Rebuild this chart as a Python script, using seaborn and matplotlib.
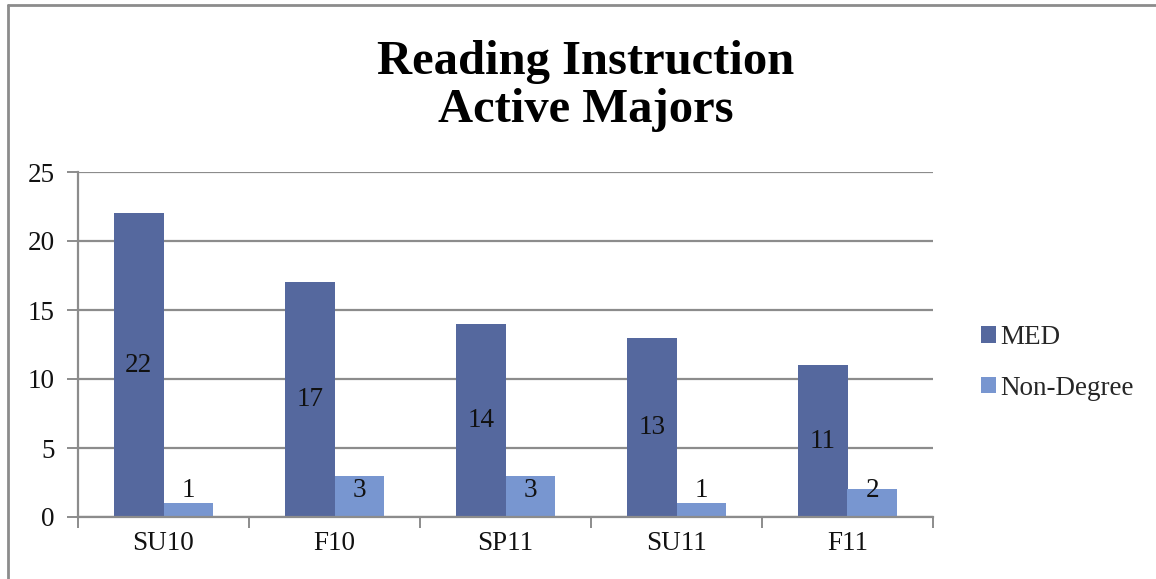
import matplotlib
matplotlib.use("Agg")
import matplotlib.pyplot as plt
import matplotlib.lines as mlines
import matplotlib.patches as mpatches
import numpy as np
import pandas as pd
import seaborn as sns

categories = ["SU10", "F10", "SP11", "SU11", "F11"]
med_values = [22, 17, 14, 13, 11]
nondegree_values = [1, 3, 3, 1, 2]
series_names = ["MED", "Non-Degree"]
y_ticks = [0, 5, 10, 15, 20, 25]

df = pd.DataFrame({
    "term": categories * 2,
    "count": med_values + nondegree_values,
    "series": [series_names[0]] * len(categories) + [series_names[1]] * len(categories),
})

sns.set_theme(style="white")
plt.rcParams["font.family"] = ["Liberation Serif", "DejaVu Serif"]

colors = ["#55689e", "#7896d0"]
fs = 19.5
fig = plt.figure(figsize=(11.56, 5.79), dpi=100)
ax = fig.add_axes([78 / 1156, 1 - 517 / 579, (933 - 78) / 1156, (517 - 172) / 579])

sns.barplot(data=df, x="term", y="count", hue="series", order=categories,
            hue_order=series_names, palette=colors, width=0.58, saturation=1,
            ax=ax, legend=False, linewidth=0)

ax.set_ylim(0, 25)
ax.set_xlim(-0.5, len(categories) - 0.5)
ax.set_yticks(y_ticks)
ax.yaxis.grid(True, color="#8c8c8c", linewidth=1.6)
ax.set_axisbelow(True)
ax.set_xlabel("")
ax.set_ylabel("")
for s in ["top", "right"]:
    ax.spines[s].set_visible(False)
for s in ["left", "bottom"]:
    ax.spines[s].set_color("#8c8c8c")
    ax.spines[s].set_linewidth(1.6)

ax.tick_params(axis="y", which="major", direction="out", length=8, width=1.4,
               color="#8c8c8c", labelsize=fs, pad=9, left=True)
ax.tick_params(axis="x", which="major", length=0, labelsize=fs, pad=10)
ax.set_xticks(np.arange(-0.5, len(categories)), minor=True)
ax.tick_params(axis="x", which="minor", direction="out", length=8, width=1.4,
               color="#8c8c8c", bottom=True)
for lbl in ax.get_xticklabels() + ax.get_yticklabels():
    lbl.set_color("#111111")

# data labels
for cont, vals in zip(ax.containers, [med_values, nondegree_values]):
    for rect, v in zip(cont, vals):
        cx = rect.get_x() + rect.get_width() / 2
        yv = v / 2 if v / 2 > 1.9 else 1.9
        ax.text(cx, yv, str(v), ha="center", va="center", fontsize=fs, color="#111111")

fig.text(586 / 1156, 1 - 86 / 579, "Reading Instruction\nActive Majors", ha="center",
         va="center", fontsize=35, fontweight="bold", linespacing=1.1, color="#000000")

handles = [mpatches.Patch(facecolor=colors[i], edgecolor="none", label=series_names[i])
           for i in range(2)]
fig.legend(handles=handles, loc="center left", bbox_to_anchor=(970 / 1156, 1 - 363 / 579),
           frameon=False, fontsize=fs, handlelength=0.55, handleheight=0.55,
           handletextpad=0.15, labelspacing=0.95, borderaxespad=0)

# outer chart border (top and left)
fig.add_artist(mlines.Line2D([8 / 1156, 1.0], [1 - 5 / 579, 1 - 5 / 579],
                             transform=fig.transFigure, color="#8c8c8c", linewidth=2))
fig.add_artist(mlines.Line2D([8 / 1156, 8 / 1156], [0, 1 - 5 / 579],
                             transform=fig.transFigure, color="#8c8c8c", linewidth=2))

fig.savefig("out.png", dpi=100, facecolor="white")
